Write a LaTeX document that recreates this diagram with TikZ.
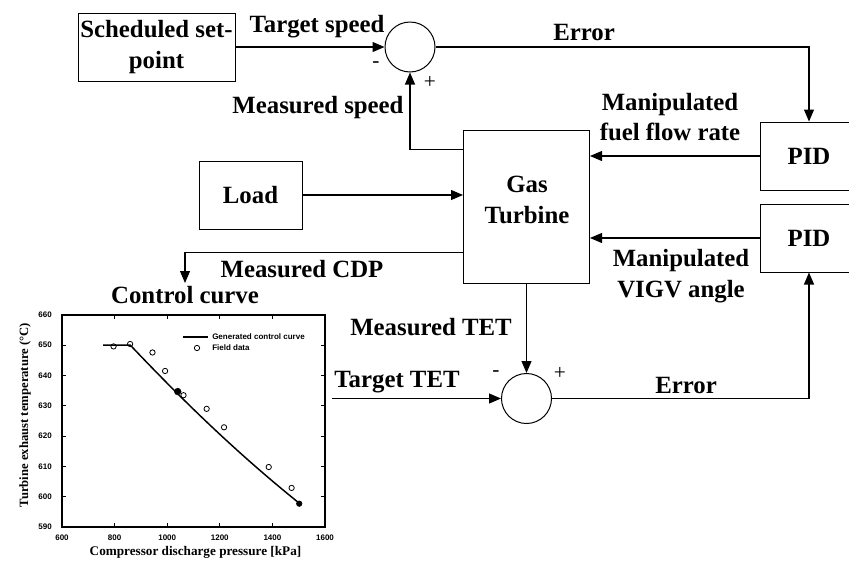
\documentclass[tikz,border=0pt]{standalone}
\usepackage{fontspec}
\setmainfont{Liberation Serif}
\setsansfont{Liberation Sans}
\usetikzlibrary{arrows.meta}

\begin{document}
\begin{tikzpicture}[x=0.75pt,y=0.75pt,yscale=-1,xscale=1,
  blk/.style={draw, line width=0.75pt, inner sep=0pt, align=center, font=\fontsize{18.6}{23}\selectfont\bfseries},
  summer/.style={draw, circle, line width=0.75pt, minimum size=37.5pt, inner sep=0pt},
  sig/.style={line width=0.8pt, -{Triangle[length=9pt,width=7.5pt]}},
  lbl/.style={inner sep=0pt, anchor=base, align=center, font=\fontsize{18.6}{23}\selectfont\bfseries},
  sgn/.style={inner sep=0pt, font=\fontsize{16}{16}\selectfont},
  ticklbl/.style={inner sep=0pt, font=\sffamily\bfseries\fontsize{6}{7}\selectfont},
  fielddot/.style={circle, draw, line width=0.6pt, inner sep=0pt, minimum size=4pt}]
\useasboundingbox (0,0) rectangle (849,561);
\clip (0,0) rectangle (849,561);

%Shape: Rectangle [blocks]
\node[blk, minimum width=117.75pt, minimum height=51pt] (sched) at (156.5,47) {Scheduled set-\\point};
\node[blk, minimum width=94.5pt, minimum height=114.75pt] (gt) at (526.5,206.5) {};
\node[inner sep=0pt, align=center, font=\fontsize{18.6}{23}\selectfont\bfseries] (gtname) at (527,200) {Gas\\Turbine};
\node[blk, minimum width=77.25pt, minimum height=51pt] (load) at (250.5,195) {Load};
\node[blk, minimum width=73.5pt, minimum height=51pt] (pidf) at (809,156) {PID};
\node[blk, minimum width=73.5pt, minimum height=51pt] (pidv) at (809,238) {PID};
%Shape: Circle [summing points]
\node[summer] (sumn) at (410,47) {};
\node[summer] (sumt) at (526.5,398.5) {};
\coordinate (cdp) at (185,283);
\coordinate (tet) at (332,398.5);

%Straight Lines [speed loop]
\draw[sig] (sched.east) -- (sumn.west);
\draw[sig] (sumn.east) -| (pidf.north);
\draw[sig] (gt.north west) ++(0,20) -| (sumn.south);
\draw[sig] (pidf.west) -- (pidf.west -| gt.east);
%Straight Lines [load and TET loop]
\draw[sig] (load.east) -- (load.east -| gt.west);
\draw[sig] (pidv.west) -- (pidv.west -| gt.east);
\draw[sig] (gt.south west) ++(0,-31) -| (cdp);
\draw[sig] (gt.south) -- (sumt.north);
\draw[sig] (tet) -- (sumt.west);
\draw[sig] (sumt.east) -| (pidv.south);

% Text Node
\node[lbl] at (317,32) {Target speed};
\node[lbl] at (318,113) {Measured speed};
\node[lbl] at (584,40) {Error};
\node[inner sep=0pt, align=center, font=\fontsize{18.6}{23}\selectfont\bfseries] at (670,117) {Manipulated\\fuel flow rate};
\node[inner sep=0pt, align=center, font=\fontsize{18.6}{23}\selectfont\bfseries] at (681,276) {Manipulated\\VIGV angle};
\node[lbl] at (302,277) {Measured CDP};
\node[lbl] at (185,303) {Control curve};
\node[lbl] at (431,335) {Measured TET};
\node[lbl] at (397,387) {Target TET};
\node[lbl] at (686,393) {Error};
\node[sgn] at (376,65) {-};
\node[sgn] at (430,82) {+};
\node[sgn] at (496,374) {-};
\node[sgn] at (560,373) {+};

%Plot: control curve
\begin{scope}[shift={(62,527)},x=0.19725pt,y=-2.2725pt,shift={(-600,-590)}]
  \foreach \k in {800,1000,1200,1400}{
    \draw[line width=0.8pt] (\k,590) -- ++(0,1.3);
    \draw[line width=0.8pt] (\k,660) -- ++(0,-1.3);
  }
  \foreach \t in {600,610,...,650}{
    \draw[line width=0.8pt] (600,\t) -- ++(15,0);
    \draw[line width=0.8pt] (1600,\t) -- ++(-15,0);
  }
  \foreach \k in {600,800,...,1600}
    \node[ticklbl] at (\k,586.4) {\k};
  \foreach \t in {590,600,...,660}
    \node[ticklbl, anchor=east] at (562,\t) {\t};
  \draw[line width=1.2pt] (600,590) rectangle (1600,660);
  % generated curve
  \draw[line width=1.1pt] (756,650) -- (860,650)
    .. controls (1100,628) and (1300,612) .. (1500,598);
  % field data
  \foreach \k/\t in {796/649.6, 859/650.4, 944/647.6, 992/641.5, 1062/633.5, 1150/629, 1216/622.9, 1386/609.8, 1473/602.9}
    \node[fielddot] at (\k,\t) {};
  \node[fielddot, fill=black] at (1502,597.7) {};
  \node[circle, fill=black, inner sep=0pt, minimum size=5.5pt] at (1040,634.7) {};
\end{scope}

% Legend
\draw[line width=1.1pt] (183,337) -- (208,337);
\node[ticklbl, anchor=west] at (212,337) {Generated control curve};
\node[fielddot] at (197,348) {};
\node[ticklbl, anchor=west] at (212,348) {Field data};
% Axis titles
\node[inner sep=0pt, font=\fontsize{9.9}{11}\selectfont\bfseries] at (195.5,552) {Compressor discharge pressure [kPa]};
\node[inner sep=0pt, rotate=90, font=\fontsize{9.5}{11}\selectfont\bfseries] at (25,415) {Turbine exhaust temperature (°C)};

\end{tikzpicture}
\end{document}
